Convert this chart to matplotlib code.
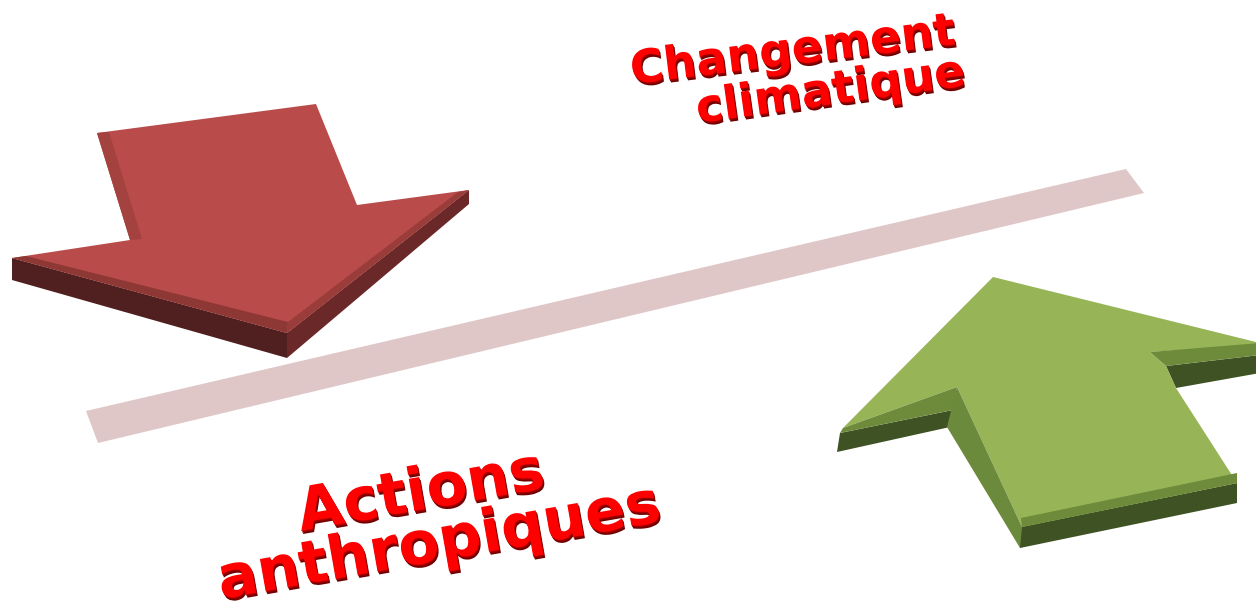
import matplotlib
matplotlib.use("Agg")
import matplotlib.pyplot as plt
import matplotlib.patheffects as pe

W, H = 1256, 614

# ---- red (down) arrow, image pixel coordinates ----
red_top_x = [97, 316, 357, 469, 287, 12, 130]
red_top_y = [133, 104, 205, 190, 333, 258, 240]
red_shaft_bevel_x = [97, 130, 142, 109]
red_shaft_bevel_y = [133, 240, 239, 132]
red_bevel_left_x = [12, 287, 288, 26]
red_bevel_left_y = [258, 333, 322, 256]
red_bevel_right_x = [287, 469, 458, 288]
red_bevel_right_y = [333, 190, 192, 322]
red_side_left_x = [12, 287, 287, 12]
red_side_left_y = [258, 333, 358, 280]
red_side_right_x = [287, 469, 469, 287]
red_side_right_y = [333, 190, 204, 358]

# ---- green (up) arrow ----
grn_top_x = [993, 1260, 1260, 1150, 1166, 1176, 1237, 1022, 957, 843]
grn_top_y = [277, 343, 345, 352, 366, 388, 483, 527, 387, 428]
grn_wingL_bevel_x = [843, 957, 953, 840]
grn_wingL_bevel_y = [428, 387, 410, 433]
grn_wingL_side_x = [840, 953, 950, 837]
grn_wingL_side_y = [433, 410, 427, 452]
grn_shaftL_side_x = [957, 1022, 1020, 947]
grn_shaftL_side_y = [387, 527, 548, 427]
grn_bottom_bevel_x = [1022, 1237, 1237, 1021]
grn_bottom_bevel_y = [527, 483, 473, 518]
grn_bottom_side_x = [1020, 1237, 1237, 1020]
grn_bottom_side_y = [527, 483, 503, 548]
grn_wingR_bevel_x = [1150, 1260, 1260, 1166]
grn_wingR_bevel_y = [352, 343, 355, 366]
grn_wingR_side_x = [1166, 1260, 1260, 1176]
grn_wingR_side_y = [366, 355, 373, 388]

# ---- separating band ----
band_x = [86, 1126, 1144, 98]
band_y = [411, 169, 193, 443]

# ---- labels ----
labels = ["Changement", "climatique", "Actions", "anthropiques"]
label_x = [632, 698, 301, 221]
label_y = [84, 123, 531, 599]
label_size = [33, 33, 43, 43]
label_rot = [7, 8, 10, 10]

fig = plt.figure(figsize=(W / 100, H / 100), dpi=100)
ax = fig.add_axes([0, 0, 1, 1])
ax.set_xlim(0, W)
ax.set_ylim(H, 0)
ax.axis("off")

# band
ax.fill(band_x, band_y, color="#dfc7c8", lw=0, zorder=1)

# red arrow
ax.fill(red_side_left_x, red_side_left_y, color="#501f1f", lw=0, zorder=2)
ax.fill(red_side_right_x, red_side_right_y, color="#6a2828", lw=0, zorder=2)
ax.fill(red_top_x, red_top_y, color="#b94c4a", lw=0, zorder=3)
ax.fill(red_shaft_bevel_x, red_shaft_bevel_y, color="#a3423f", lw=0, zorder=4)
ax.fill(red_bevel_left_x, red_bevel_left_y, color="#8e3835", lw=0, zorder=4)
ax.fill(red_bevel_right_x, red_bevel_right_y, color="#9a3d3a", lw=0, zorder=4)

# green arrow
ax.fill(grn_wingL_side_x, grn_wingL_side_y, color="#3f5224", lw=0, zorder=2)
ax.fill(grn_bottom_side_x, grn_bottom_side_y, color="#3f5224", lw=0, zorder=2)
ax.fill(grn_wingR_side_x, grn_wingR_side_y, color="#3f5224", lw=0, zorder=2)
ax.fill(grn_top_x, grn_top_y, color="#97b557", lw=0, zorder=3)
ax.fill(grn_wingL_bevel_x, grn_wingL_bevel_y, color="#6e8b3c", lw=0, zorder=4)
ax.fill(grn_shaftL_side_x, grn_shaftL_side_y, color="#6c8a3b", lw=0, zorder=4)
ax.fill(grn_bottom_bevel_x, grn_bottom_bevel_y, color="#6e8b3c", lw=0, zorder=4)
ax.fill(grn_wingR_bevel_x, grn_wingR_bevel_y, color="#6e8b3c", lw=0, zorder=4)

# labels with 3D extrusion look
for txt, x, y, s, r in zip(labels, label_x, label_y, label_size, label_rot):
    effects = [
        pe.SimplePatchShadow(offset=(1.2, -2.2), shadow_rgbFace="#6e0000", alpha=1.0),
        pe.SimplePatchShadow(offset=(0.6, -1.1), shadow_rgbFace="#9a0000", alpha=1.0),
        pe.Normal(),
    ]
    ax.text(x, y, txt, fontsize=s, fontweight="bold", family="DejaVu Sans",
            color="#ff0000", rotation=r, rotation_mode="anchor",
            ha="left", va="baseline", zorder=6, path_effects=effects)

fig.savefig("out.png", dpi=100)
